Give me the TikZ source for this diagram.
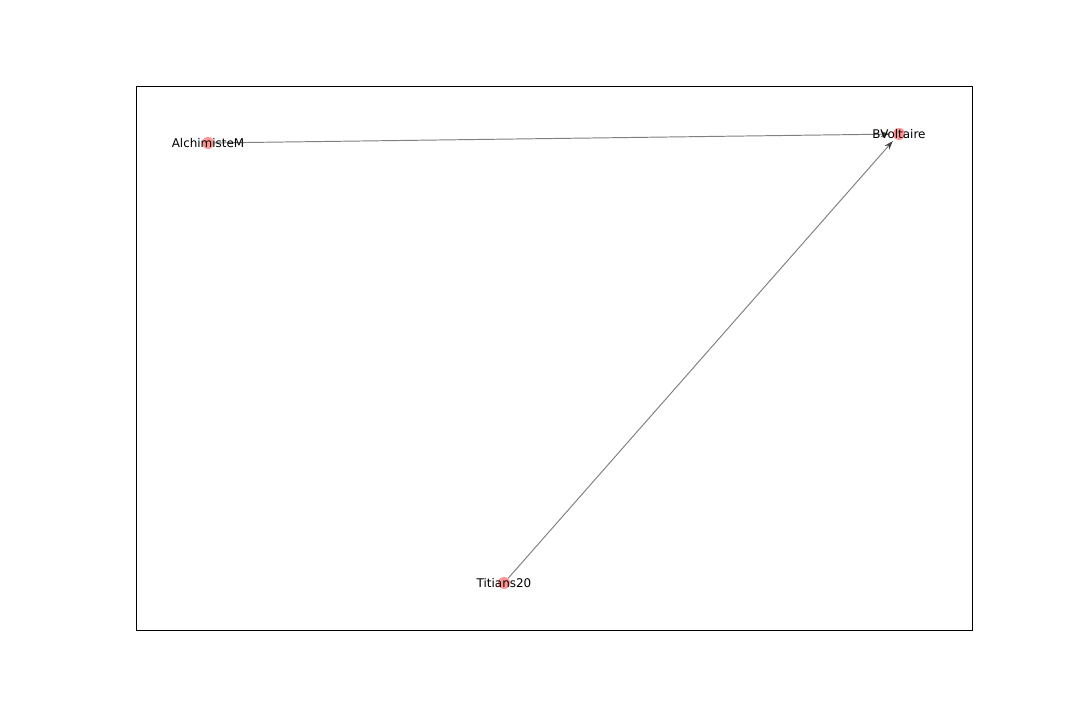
\documentclass[tikz,border=0pt]{standalone}
\usepackage{fontspec}
\setmainfont{DejaVu Sans}
\usetikzlibrary{arrows.meta}

\tikzset{
  user/.style={circle,fill=red!60!white,fill opacity=0.7,draw=none,minimum size=0.24cm,inner sep=0pt},
  username/.style={font=\fontsize{6.8}{8}\selectfont,text=black,inner sep=0pt},
  follows/.style={draw=black!50,line width=0.55pt,-{Stealth[length=0.18cm,width=0.12cm,color=black!75]},shorten >=0.06cm}
}

\begin{document}
\begin{tikzpicture}
\useasboundingbox (0,0) rectangle (21.6,14.4);
\draw[black,line width=0.5pt] (2.72,1.80) rectangle (19.44,12.68);

\node[user] (alchimiste) at (4.16,11.54) {};
\node[user] (bvoltaire) at (17.98,11.72) {};
\node[user] (titians) at (10.08,2.74) {};

\draw[follows] (alchimiste) -- (bvoltaire);
\draw[follows] (titians) -- (bvoltaire);

\node[username] at (alchimiste) {AlchimisteM};
\node[username] at (bvoltaire) {BVoltaire};
\node[username] at (titians) {Titians20};

\end{tikzpicture}
\end{document}
